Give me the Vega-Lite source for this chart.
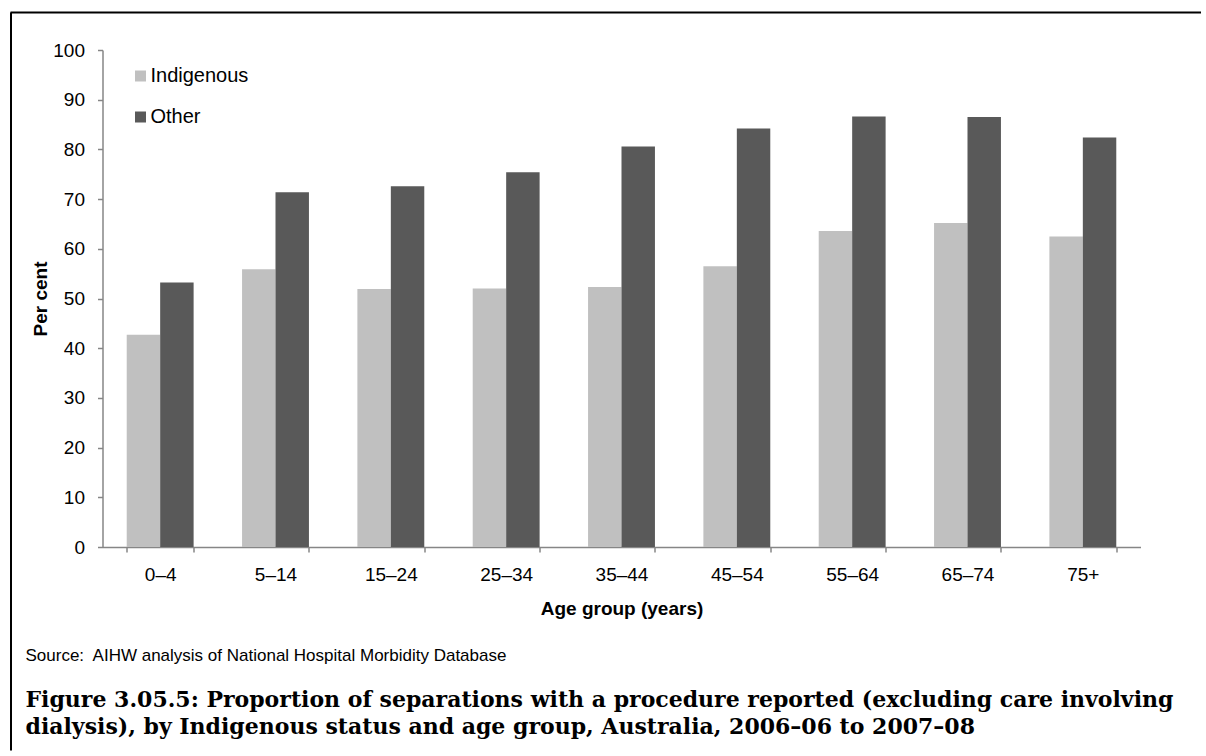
{
  "$schema": "https://vega.github.io/schema/vega-lite/v6.json",
  "width": 1038,
  "height": 497,
  "padding": {"left": 8.5, "top": 11, "right": 0, "bottom": 0},
  "autosize": {"type": "pad"},
  "background": "white",
  "config": {
    "view": {"stroke": null},
    "font": "Liberation Sans",
    "axis": {"labelFont": "Liberation Sans", "titleFont": "Liberation Sans", "labelColor": "#000000", "titleColor": "#000000"}
  },
  "title": {
    "text": "Source:\u00a0 AIHW analysis of National Hospital Morbidity Database",
    "orient": "bottom",
    "anchor": "start",
    "frame": "bounds",
    "dx": 16.5,
    "offset": -103,
    "font": "Liberation Sans",
    "fontSize": 17,
    "fontWeight": "normal",
    "color": "#000000",
    "subtitle": [
      "Figure 3.05.5: Proportion of separations with a procedure reported (excluding care involving",
      "dialysis), by Indigenous status and age group, Australia, 2006–06 to 2007–08"
    ],
    "subtitleFont": "DejaVu Serif",
    "subtitleFontWeight": "bold",
    "subtitleFontSize": 22,
    "subtitleColor": "#000000",
    "subtitlePadding": 25,
    "subtitleLineHeight": 27
  },
  "data": {
    "values": [
      {"age": "0–4", "status": "Indigenous", "percent": 42.7},
      {"age": "0–4", "status": "Other", "percent": 53.2},
      {"age": "5–14", "status": "Indigenous", "percent": 55.9},
      {"age": "5–14", "status": "Other", "percent": 71.4},
      {"age": "15–24", "status": "Indigenous", "percent": 51.9},
      {"age": "15–24", "status": "Other", "percent": 72.6},
      {"age": "25–34", "status": "Indigenous", "percent": 52.0},
      {"age": "25–34", "status": "Other", "percent": 75.4},
      {"age": "35–44", "status": "Indigenous", "percent": 52.3},
      {"age": "35–44", "status": "Other", "percent": 80.6},
      {"age": "45–54", "status": "Indigenous", "percent": 56.5},
      {"age": "45–54", "status": "Other", "percent": 84.2},
      {"age": "55–64", "status": "Indigenous", "percent": 63.6},
      {"age": "55–64", "status": "Other", "percent": 86.6},
      {"age": "65–74", "status": "Indigenous", "percent": 65.2},
      {"age": "65–74", "status": "Other", "percent": 86.5},
      {"age": "75+", "status": "Indigenous", "percent": 62.5},
      {"age": "75+", "status": "Other", "percent": 82.4}
    ]
  },
  "layer": [
    {
      "mark": {"type": "bar"},
      "encoding": {
        "x": {
          "field": "age",
          "type": "nominal",
          "sort": null,
          "scale": {"paddingInner": 0.42, "paddingOuter": 0.21},
          "axis": {
            "title": "Age group (years)",
            "labelAngle": 0,
            "tickBand": "extent",
            "labelFontSize": 19,
            "labelPadding": 13,
            "titleFontSize": 19,
            "titleFontWeight": "bold",
            "titlePadding": 15,
            "domainColor": "#868686",
            "domainWidth": 1.5,
            "tickColor": "#868686",
            "tickWidth": 1.5,
            "tickSize": 5
          }
        },
        "xOffset": {"field": "status", "type": "nominal", "sort": ["Indigenous", "Other"]},
        "y": {
          "field": "percent",
          "type": "quantitative",
          "scale": {"domain": [0, 100]},
          "axis": {
            "title": "Per cent",
            "values": [0, 10, 20, 30, 40, 50, 60, 70, 80, 90, 100],
            "grid": false,
            "labelFontSize": 19,
            "labelPadding": 13,
            "titleFontSize": 19,
            "titleFontWeight": "bold",
            "titlePadding": 2,
            "domainColor": "#868686",
            "domainWidth": 1.5,
            "tickColor": "#868686",
            "tickWidth": 1.5,
            "tickSize": 5
          }
        },
        "color": {
          "field": "status",
          "type": "nominal",
          "scale": {"domain": ["Indigenous", "Other"], "range": ["#C0C0C0", "#595959"]},
          "legend": {
            "title": null,
            "orient": "none",
            "legendX": 28,
            "legendY": 16,
            "symbolType": "square",
            "symbolSize": 121,
            "symbolStrokeWidth": 0,
            "labelFont": "Liberation Sans",
            "labelFontSize": 20,
            "labelColor": "#000000",
            "labelOffset": 0,
            "rowPadding": 21
          }
        }
      }
    },
    {
      "mark": {"type": "point", "opacity": 0, "size": 0},
      "encoding": {
        "x": {
          "datum": 0,
          "type": "quantitative",
          "scale": {"domain": [0, 1]},
          "axis": {
            "orient": "top",
            "offset": 38,
            "values": [0],
            "tickOffset": -92.5,
            "tickSize": -738,
            "tickWidth": 2,
            "tickColor": "#000000",
            "domain": false,
            "labels": false,
            "grid": false,
            "title": null
          }
        },
        "y": {
          "datum": 0,
          "type": "quantitative",
          "scale": {"domain": [0, 1]},
          "axis": {
            "orient": "left",
            "offset": 92.5,
            "values": [1],
            "tickOffset": -38,
            "tickSize": -1190.5,
            "tickWidth": 2,
            "tickColor": "#000000",
            "domain": false,
            "labels": false,
            "grid": false,
            "title": null
          }
        }
      }
    }
  ],
  "resolve": {"scale": {"x": "independent", "y": "independent"}}
}
